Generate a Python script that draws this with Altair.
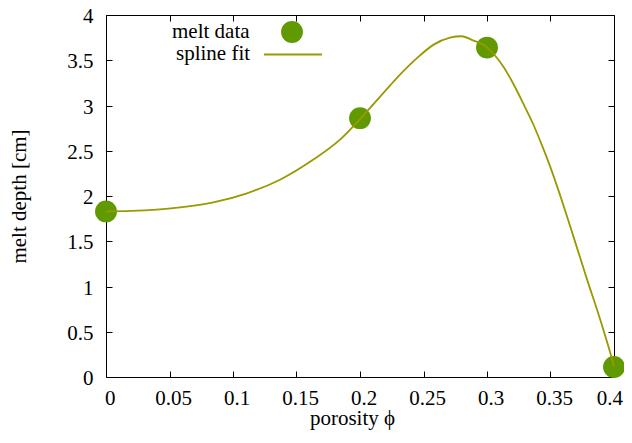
import altair as alt
import pandas as pd

# measured data points
melt_x = [0.0, 0.2, 0.3, 0.4]
melt_y = [1.83, 2.86, 3.64, 0.11]

# spline fit curve
fit_x = [0.0, 0.02, 0.04, 0.0583, 0.0845, 0.111, 0.137, 0.163, 0.184, 0.2,
         0.2236, 0.2315, 0.2446, 0.2577, 0.2709, 0.280, 0.289, 0.2971, 0.3,
         0.3076, 0.3128, 0.3207, 0.3286, 0.3365, 0.343, 0.3496, 0.358,
         0.3654, 0.3785, 0.389, 0.3976, 0.4]
fit_y = [1.83, 1.835, 1.85, 1.875, 1.93, 2.03, 2.18, 2.40, 2.62, 2.85,
         3.22, 3.34, 3.52, 3.67, 3.75, 3.765, 3.72, 3.67, 3.64,
         3.53, 3.43, 3.24, 3.02, 2.79, 2.57, 2.33, 1.99,
         1.67, 1.09, 0.64, 0.24, 0.12]

x_ticks = [0, 0.05, 0.1, 0.15, 0.2, 0.25, 0.3, 0.35, 0.4]
y_ticks = [0, 0.5, 1, 1.5, 2, 2.5, 3, 3.5, 4]

FONT = "Liberation Serif"
FS = 21
POINT_COLOR = "#619a00"
LINE_COLOR = "#999900"

pts = pd.DataFrame({"x": melt_x, "y": melt_y, "series": "melt data"})
fit = pd.DataFrame({"x": fit_x, "y": fit_y, "series": "spline fit"})

xscale = alt.Scale(domain=[0, 0.4], nice=False, zero=False)
yscale = alt.Scale(domain=[0, 4], nice=False, zero=False)

common_axis = dict(tickSize=6, offset=-6, domain=False, grid=False,
                   tickColor="black", tickWidth=1, labelFont=FONT,
                   labelFontSize=FS, labelColor="black", titleFont=FONT,
                   titleFontSize=FS, titleFontWeight="normal",
                   titleColor="black", labelOverlap=False)

legend_common = dict(orient="none", padding=0, labelExpr="''",
                     titleOrient="left", titleFont=FONT, titleFontSize=FS,
                     titleFontWeight="normal", titleColor="black",
                     titleLimit=0, titleAnchor="middle")

points = alt.Chart(pts).mark_circle(size=480, opacity=1).encode(
    x=alt.X("x:Q", scale=xscale,
            axis=alt.Axis(values=x_ticks, format="~g", orient="bottom",
                          title="porosity ϕ", labelBaseline="alphabetic",
                          labelPadding=27, labelOffset=3.5, labelFlush=True,
                          labelFlushOffset=5, titleX=246,
                          titleY=53, titleBaseline="alphabetic",
                          **common_axis)),
    y=alt.Y("y:Q", scale=yscale,
            axis=alt.Axis(values=y_ticks, format="~g", orient="left",
                          title="melt depth [cm]", labelPadding=13,
                          labelOffset=1.5, labelFlush=False, titleX=-87,
                          titleBaseline="alphabetic", **common_axis)),
    fill=alt.Fill("series:N", scale=alt.Scale(range=[POINT_COLOR]),
                  legend=alt.Legend(title="melt data", legendX=66, legendY=6,
                                    titlePadding=31, titleBaseline="middle",
                                    symbolType="circle",
                                    symbolSize=480, symbolStrokeWidth=0,
                                    symbolOpacity=1, **legend_common)),
)

line = alt.Chart(fit).mark_line(strokeWidth=1.8, interpolate="monotone").encode(
    x=alt.X("x:Q", scale=xscale,
            axis=alt.Axis(values=x_ticks, orient="top", labels=False,
                          title=None, labelFlush=False, **common_axis)),
    y=alt.Y("y:Q", scale=yscale,
            axis=alt.Axis(values=y_ticks, orient="right", labels=False,
                          title=None, labelFlush=False, **common_axis)),
    stroke=alt.Stroke("series:N", scale=alt.Scale(range=[LINE_COLOR]),
                      legend=alt.Legend(title="spline fit", legendX=70,
                                        legendY=9.5, titlePadding=12,
                                        titleBaseline="top",
                                        symbolType="stroke", symbolSize=3364,
                                        symbolStrokeWidth=1.8,
                                        **legend_common)),
)

chart = alt.layer(points, line).resolve_axis(
    x="independent", y="independent"
).resolve_legend(fill="independent", stroke="independent").properties(
    width=508, height=362,
    autosize=alt.AutoSizeParams(type="none"),
    padding={"left": 98, "top": 7, "right": 10, "bottom": 58},
    background="white",
).configure_view(stroke="black", strokeWidth=1)

chart.save("out.html", embed_options={"renderer": "svg", "actions": False})
